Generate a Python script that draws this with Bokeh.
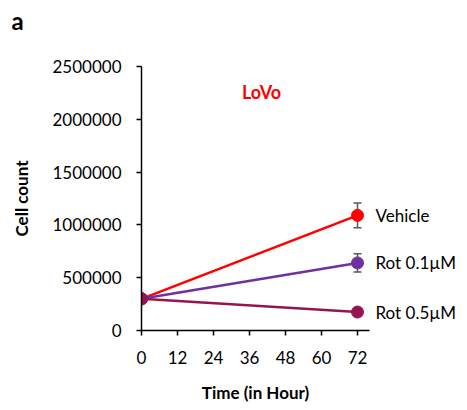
from bokeh.plotting import figure
from bokeh.models import (ColumnDataSource, Whisker, TeeHead, Label, Title,
                          LinearAxis, FixedTicker, BasicTickFormatter, Range1d)
from bokeh.embed import file_html
from bokeh.resources import INLINE

# ---- data ----
time = [0, 72]
time_ticks = [0, 12, 24, 36, 48, 60, 72]
count_ticks = [0, 500000, 1000000, 1500000, 2000000, 2500000]
series_names = ["Vehicle", "Rot 0.1\u00b5M", "Rot 0.5\u00b5M"]
vehicle = [300000, 1090000]
rot01 = [300000, 640000]
rot05 = [300000, 175000]
vehicle_err = [0, 118000]
rot01_err = [0, 87000]
rot05_err = [0, 0]
colors = ["#FF0000", "#7030A0", "#941651"]

FONT = "Lato"

p = figure(frame_width=228, frame_height=264,
           min_border_left=141, min_border_top=66,
           min_border_bottom=71, min_border_right=80,
           x_range=Range1d(0, 76), y_range=Range1d(0, 2500000),
           output_backend="svg", toolbar_location=None)
p.outline_line_color = None
p.xgrid.visible = False
p.ygrid.visible = False
p.background_fill_color = "white"
p.border_fill_color = "white"

series = [vehicle, rot01, rot05]
errs = [vehicle_err, rot01_err, rot05_err]
for vals, err, col in zip(series, errs, colors):
    src = ColumnDataSource(dict(x=time, y=vals,
                                upper=[v + e for v, e in zip(vals, err)],
                                lower=[v - e for v, e in zip(vals, err)]))
    if max(err) > 0:
        w = Whisker(source=src, base="x", upper="upper", lower="lower",
                    line_color="#595959", line_width=1.5, level="underlay",
                    upper_head=TeeHead(size=8, line_color="#595959", line_width=1.5),
                    lower_head=TeeHead(size=8, line_color="#595959", line_width=1.5))
        p.add_layout(w)
    p.line("x", "y", source=src, line_color=col, line_width=2.5)
    p.scatter("x", "y", source=src, size=12, fill_color=col, line_color=col)

# end labels: tick labels of an invisible right axis at each series' last value
end_vals = [s[-1] for s in series]
right = LinearAxis(ticker=FixedTicker(ticks=end_vals),
                   major_label_overrides={v: n for v, n in zip(end_vals, series_names)},
                   axis_line_color=None, major_tick_line_color=None,
                   minor_tick_line_color=None, major_tick_in=0, major_tick_out=0,
                   major_label_standoff=6,
                   major_label_text_font=FONT, major_label_text_font_size="17px",
                   major_label_text_color="black")
p.add_layout(right, "right")

# axes
for ax in (p.xaxis[0], p.yaxis[0]):
    ax.axis_line_color = "black"
    ax.axis_line_width = 1.5
    ax.major_tick_line_width = 1.5
    ax.major_tick_in = 0
    ax.major_tick_out = 5
    ax.minor_tick_line_color = None
    ax.major_label_text_font = FONT
    ax.major_label_text_font_size = "17px"
    ax.major_label_text_color = "black"
    ax.axis_label_text_font = FONT
    ax.axis_label_text_font_size = "17px"
    ax.axis_label_text_font_style = "bold"
    ax.axis_label_text_color = "black"

xax = p.below[0]
yax = p.left[0]
xax.ticker = FixedTicker(ticks=time_ticks)
yax.ticker = FixedTicker(ticks=count_ticks)
yax.formatter = BasicTickFormatter(use_scientific=False)
xax.axis_label = "Time (in Hour)"
yax.axis_label = "Cell count"
yax.major_label_standoff = 15
xax.major_label_standoff = 15
yax.axis_label_standoff = 17
xax.axis_label_standoff = 15

p.add_layout(Label(x=40, y=2260000, text="LoVo", text_font=FONT,
                   text_font_size="18px", text_font_style="bold",
                   text_color="#FF0000", text_align="center",
                   text_baseline="middle"))
# panel letter; the blank second line lifts it toward the top edge
p.add_layout(Title(text="a\n\u00a0", align="left", offset=-130, standoff=6,
                   text_font=FONT, text_font_size="24px",
                   text_font_style="bold", text_color="black"), "above")

open("out.html", "w").write(file_html(p, INLINE))
